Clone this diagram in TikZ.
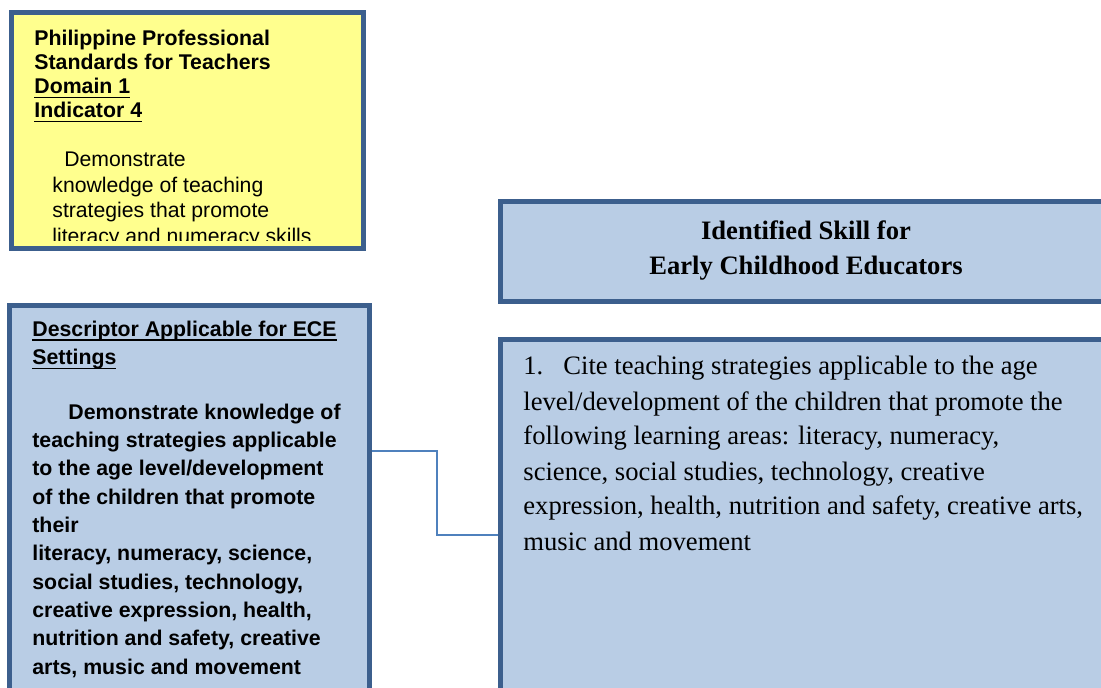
\documentclass[tikz,border=0pt]{standalone}
\usepackage{fontspec}
\setmainfont{Liberation Serif}
\setsansfont{Liberation Sans}
\usepackage{tikz}
\usetikzlibrary{positioning}
\definecolor{frame}{HTML}{3C5F8D}
\definecolor{pale}{HTML}{B9CDE5}
\definecolor{note}{HTML}{FFFF8E}
\definecolor{wire}{HTML}{4F81BD}
% underlined heading text
\newcommand{\ulnd}[1]{\setbox0\hbox{#1}\rlap{\rule[-2.2pt]{\wd0}{0.8pt}}\box0}
\tikzset{
  box/.style={rectangle, draw=frame, line width=2.5pt, inner sep=0pt, anchor=north west},
  bluebox/.style={box, fill=pale},
  notebox/.style={box, fill=note},
  headlbl/.style={font=\fontsize{10.65pt}{12pt}\selectfont\sffamily\bfseries, align=left, anchor=base west, inner sep=0pt},
  notelbl/.style={font=\fontsize{10.6pt}{12.75pt}\selectfont\sffamily, align=left, anchor=base west, inner sep=0pt},
  ecelbl/.style={font=\fontsize{10.65pt}{14.15pt}\selectfont\sffamily\bfseries, align=left, anchor=base west, inner sep=0pt},
  skilllbl/.style={font=\fontsize{13.3pt}{17.5pt}\selectfont, inner sep=0pt},
  link/.style={draw=wire, line width=1pt}
}

\begin{document}
\begin{tikzpicture}[x=0.5pt, y=-0.5pt]
  \useasboundingbox (0,0) rectangle (1101,688);
  \clip (0,0) rectangle (1101,688);

  % boxes
  \node[notebox, minimum width=176pt, minimum height=118pt] (ppst) at (9,10) {};
  \node[bluebox, minimum width=180pt, minimum height=210pt] (ece) at (7,303) {};
  \node[bluebox, minimum width=305.5pt, minimum height=50pt] (title) at (498,199) {};
  \node[bluebox, minimum width=305.5pt, minimum height=200pt] (skill) at (498,337) {};

  % texts sit on the baseline of their last line
  % standards box, text cut off at the bottom
  \node[headlbl] (ppstHead) at (34,118) {Philippine Professional\\Standards for Teachers\\\ulnd{Domain 1}\\\ulnd{Indicator 4}};
  \begin{scope}
    \clip (14,15) rectangle (361,241);
    \node[notelbl] (ppstText) at (52,243.2) {\hspace*{6pt}Demonstrate\\knowledge of teaching\\strategies that promote\\literacy and numeracy skills};
  \end{scope}

  % descriptor box
  \node[ecelbl] (eceHead) at (32,365) {\ulnd{Descriptor Applicable for ECE}\\\ulnd{Settings}};
  \node[ecelbl] (eceText) at (32,674) {\hspace*{18pt}Demonstrate knowledge of\\teaching strategies applicable\\to the age level/development\\of the children that promote\\their\\literacy, numeracy, science,\\social studies, technology,\\creative expression, health,\\nutrition and safety, creative\\arts, music and movement};

  % skill boxes
  \node[skilllbl, font=\fontsize{13.3pt}{17.5pt}\selectfont\bfseries, align=center, anchor=base] (titleText) at (806,275) {Identified Skill for\\Early Childhood Educators};
  \node[skilllbl, align=left, anchor=base west] (skillText) at (523,550) {\makebox[20pt][l]{1.}Cite teaching strategies applicable to the age\\level/development of the children that promote the\\following learning areas: literacy, numeracy,\\science, social studies, technology, creative\\expression, health, nutrition and safety, creative arts,\\music and movement};

  \coordinate (elbow) at (437,535);
  \draw[link] (ece.east |- 0,451) -| (elbow) -- (skill.west |- elbow);
\end{tikzpicture}
\end{document}
